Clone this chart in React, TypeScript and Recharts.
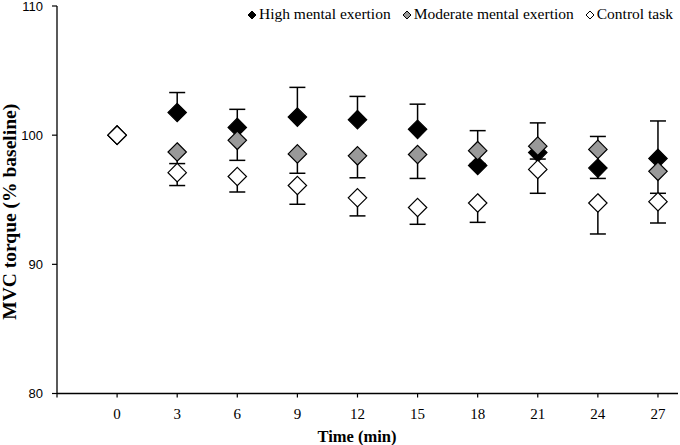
import React from 'react';
import { ScatterChart, Scatter, XAxis, YAxis, ErrorBar, Label } from 'recharts';

const times = [0, 3, 6, 9, 12, 15, 18, 21, 24, 27];
const highValues = [100, 101.75, 100.6, 101.4, 101.2, 100.45, 97.65, 98.65, 97.45, 98.2];
const highErrUp = [0, 1.55, 1.4, 2.3, 1.8, 1.95, 2.7, 2.3, 2.45, 2.9];
const moderateValues = [100, 98.7, 99.6, 98.55, 98.4, 98.5, 98.8, 99.15, 98.9, 97.2];
const moderateErrDown = [0, 0.9, 1.55, 1.5, 1.7, 1.85, 1.0, 1.0, 2.25, 1.7];
const controlValues = [100, 97.1, 96.8, 96.1, 95.15, 94.4, 94.75, 97.35, 94.75, 94.85];
const controlErrDown = [0, 1.0, 1.2, 1.45, 1.4, 1.3, 1.5, 1.85, 2.4, 1.65];
const xTicks = [-3, 0, 3, 6, 9, 12, 15, 18, 21, 24, 27];
const yTicks = [80, 90, 100, 110];
const seriesNames = ['High mental exertion', 'Moderate mental exertion', 'Control task'];
const seriesFills = ['#000000', '#999999', '#ffffff'];

const highData = times.map((t, i) => ({ time: t, value: highValues[i], err: [0, highErrUp[i]] }));
const moderateData = times.map((t, i) => ({ time: t, value: moderateValues[i], err: [moderateErrDown[i], 0] }));
const controlData = times.map((t, i) => ({ time: t, value: controlValues[i], err: [controlErrDown[i], 0] }));

const makeDiamond = (fill: string) => (props: any) => {
  const { cx, cy } = props;
  if (cx == null || cy == null) return <g />;
  const r = 9.2;
  return (
    <polygon
      points={`${cx},${cy - r} ${cx + r},${cy} ${cx},${cy + r} ${cx - r},${cy}`}
      fill={fill}
      stroke="#000"
      strokeWidth={1.2}
    />
  );
};

const serif = '"Liberation Serif", "Times New Roman", serif';
const sans = '"Liberation Sans", Arial, sans-serif';

function LegendOverlay() {
  return (
    <div
      style={{
        position: 'absolute',
        right: 7,
        top: 5,
        display: 'flex',
        alignItems: 'center',
        pointerEvents: 'none',
        fontFamily: serif,
        fontSize: 15.5,
        color: '#000',
        whiteSpace: 'nowrap',
      }}
    >
      {seriesNames.map((name, i) => (
        <div key={name} style={{ display: 'flex', alignItems: 'center', marginLeft: i === 0 ? 0 : 11 }}>
          <svg width={10} height={10} style={{ marginRight: 2, marginTop: 1 }}>
            <polygon points="5,1 9,5 5,9 1,5" fill={seriesFills[i]} stroke="#000" strokeWidth={1} />
          </svg>
          <span>{name}</span>
        </div>
      ))}
    </div>
  );
}

export default function App() {
  return (
    <div style={{ position: 'absolute', left: 0, top: 0, width: 680, height: 445, background: '#fff' }}>
      <ScatterChart width={680} height={445} margin={{ top: 6, right: 2, bottom: 0, left: 0 }}>
        <XAxis
          dataKey="time"
          type="number"
          domain={[-3, 28]}
          ticks={xTicks}
          interval={0}
          tickFormatter={(v: number) => (v < 0 ? '' : String(v))}
          height={51.5}
          axisLine={{ stroke: '#000', strokeWidth: 1.3 }}
          tickLine={{ stroke: '#000', strokeWidth: 1.2 }}
          tickSize={4}
          tickMargin={11}
          tick={{ fill: '#000', fontSize: 15, fontFamily: serif }}
        >
          <Label
            content={(p: any) => {
              const vb = p.viewBox || { x: 57, y: 393.5, width: 621, height: 51.5 };
              return (
                <text
                  x={vb.x + vb.width / 2 - 10.5}
                  y={vb.y + vb.height - 3}
                  textAnchor="middle"
                  fontFamily={serif}
                  fontWeight="bold"
                  fontSize={16.5}
                  fill="#000"
                >
                  Time (min)
                </text>
              );
            }}
          />
        </XAxis>
        <YAxis
          dataKey="value"
          type="number"
          domain={[80, 110]}
          ticks={yTicks}
          interval={0}
          width={57}
          axisLine={{ stroke: '#000', strokeWidth: 1.3 }}
          tickLine={{ stroke: '#000', strokeWidth: 1.2 }}
          tickSize={5}
          tickMargin={9}
          tick={{ fill: '#000', fontSize: 13, fontFamily: sans }}
        >
          <Label
            content={(p: any) => {
              const vb = p.viewBox || { x: 0, y: 6, width: 57, height: 387.5 };
              const cx = vb.x + 15.5;
              const cy = vb.y + vb.height / 2 + 12;
              return (
                <text
                  x={0}
                  y={0}
                  transform={`translate(${cx},${cy}) rotate(-90)`}
                  textAnchor="middle"
                  fontFamily={serif}
                  fontWeight="bold"
                  fontSize={19.5}
                  fill="#000"
                >
                  MVC torque (% baseline)
                </text>
              );
            }}
          />
        </YAxis>
        <Scatter name={seriesNames[0]} data={highData} dataKey="value" shape={makeDiamond(seriesFills[0])} isAnimationActive={false}>
          <ErrorBar dataKey="err" direction="y" width={8} stroke="#000" strokeWidth={1.5} isAnimationActive={false} />
        </Scatter>
        <Scatter name={seriesNames[1]} data={moderateData} dataKey="value" shape={makeDiamond(seriesFills[1])} isAnimationActive={false}>
          <ErrorBar dataKey="err" direction="y" width={8} stroke="#000" strokeWidth={1.5} isAnimationActive={false} />
        </Scatter>
        <Scatter name={seriesNames[2]} data={controlData} dataKey="value" shape={makeDiamond(seriesFills[2])} isAnimationActive={false}>
          <ErrorBar dataKey="err" direction="y" width={8} stroke="#000" strokeWidth={1.5} isAnimationActive={false} />
        </Scatter>
      </ScatterChart>
      <LegendOverlay />
    </div>
  );
}
